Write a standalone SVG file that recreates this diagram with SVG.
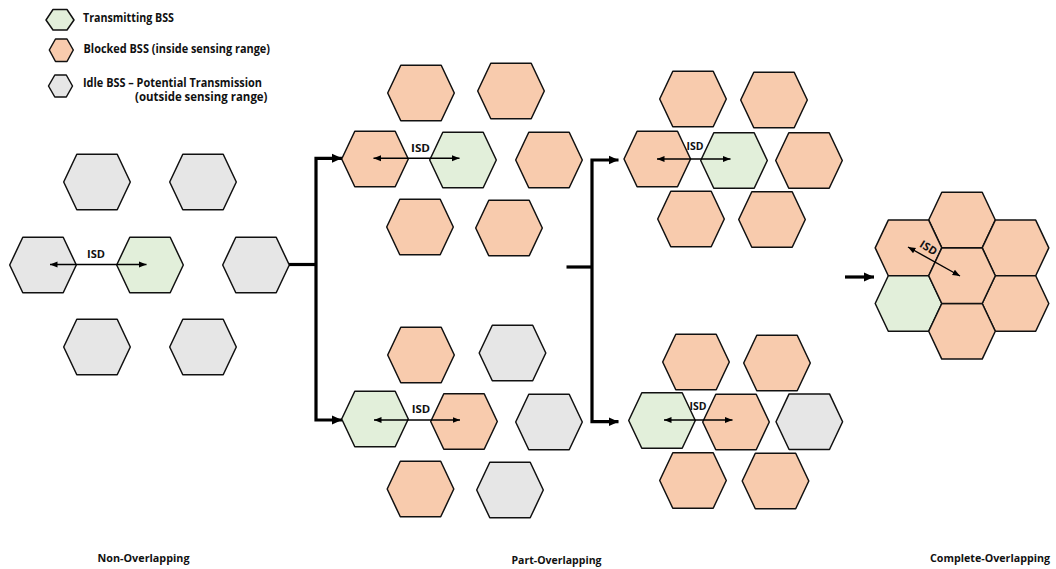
<svg xmlns="http://www.w3.org/2000/svg" xmlns:xlink="http://www.w3.org/1999/xlink" width="1056" height="569" viewBox="0 0 1056 569">
  <style>
    .hex { stroke: #111; stroke-width: 1.5; stroke-linejoin: round; }
    .tx { fill: #E2EFDA; }
    .bk { fill: #F8CBAD; }
    .id { fill: #E6E6E6; }
    text { font-family: "Open Sans", "Liberation Sans", "DejaVu Sans", sans-serif; font-weight: bold; fill: #111; }
    .leg { font-size: 11.5px; }
    .cap { font-size: 11px; }
    .isd { font-size: 11px; text-anchor: middle; }
    .flow { fill: none; stroke: #000; stroke-width: 3.2; stroke-linejoin: miter; }
    .dist { fill: none; stroke: #000; stroke-width: 1.4; }
  </style>
  <defs>
    <!-- cell shape: flat top/bottom, pointed left/right -->
    <path id="hex" d="M-33.3,0 L-20.2,-27.8 L20.2,-27.8 L33.3,0 L20.2,27.8 L-20.2,27.8 Z"/>
    <marker id="bigHead" markerUnits="userSpaceOnUse" markerWidth="11" markerHeight="10" refX="10" refY="5" orient="auto-start-reverse">
      <path d="M0,0.5 L10,5 L0,9.5 Z" fill="#000"/>
    </marker>
    <marker id="smallHead" markerUnits="userSpaceOnUse" markerWidth="8" markerHeight="7" refX="7.5" refY="3.5" orient="auto-start-reverse">
      <path d="M0,0.5 L7.5,3.5 L0,6.5 Z" fill="#000"/>
    </marker>
  </defs>

  <!-- legend -->
  <g id="legend">
    <path class="hex tx" d="M46,20 L53,9.5 L67,9.5 L74,20 L67,30 L53,30 Z"/>
    <path class="hex bk" d="M49.3,50 L55.5,39 L67,39 L73.3,50 L67,61.5 L55.5,61.5 Z"/>
    <path class="hex id" d="M48.5,86 L54.8,75 L66.3,75 L72.5,86 L66.3,97 L54.8,97 Z"/>
    <text class="leg" x="83" y="21.5" textLength="91" lengthAdjust="spacingAndGlyphs">Transmitting BSS</text>
    <text class="leg" x="83.5" y="53" textLength="186.5" lengthAdjust="spacingAndGlyphs">Blocked BSS (inside sensing range)</text>
    <text class="leg" x="83" y="87" textLength="179" lengthAdjust="spacingAndGlyphs">Idle BSS – Potential Transmission</text>
    <text class="leg" x="135" y="100.5" textLength="132.5" lengthAdjust="spacingAndGlyphs">(outside sensing range)</text>
  </g>

  <!-- non-overlapping layout -->
  <g id="non-overlapping">
    <use href="#hex" xlink:href="#hex" class="hex id" x="97" y="182"/>
    <use href="#hex" xlink:href="#hex" class="hex id" x="203" y="182"/>
    <use href="#hex" xlink:href="#hex" class="hex id" x="43" y="265"/>
    <use href="#hex" xlink:href="#hex" class="hex tx" x="150" y="265"/>
    <use href="#hex" xlink:href="#hex" class="hex id" x="256" y="265"/>
    <use href="#hex" xlink:href="#hex" class="hex id" x="97" y="347"/>
    <use href="#hex" xlink:href="#hex" class="hex id" x="203" y="347"/>
    <line class="dist" x1="50" y1="264.5" x2="146.5" y2="264.5" marker-start="url(#smallHead)" marker-end="url(#smallHead)"/>
    <text class="isd" x="96" y="257.5" textLength="18" lengthAdjust="spacingAndGlyphs">ISD</text>
  </g>

  <!-- part-overlapping, upper -->
  <g id="part-overlapping-a">
    <use href="#hex" xlink:href="#hex" class="hex bk" x="421" y="93"/>
    <use href="#hex" xlink:href="#hex" class="hex bk" x="511" y="91"/>
    <use href="#hex" xlink:href="#hex" class="hex bk" x="375" y="159"/>
    <use href="#hex" xlink:href="#hex" class="hex tx" x="463" y="160"/>
    <use href="#hex" xlink:href="#hex" class="hex bk" x="549" y="160"/>
    <use href="#hex" xlink:href="#hex" class="hex bk" x="420" y="227"/>
    <use href="#hex" xlink:href="#hex" class="hex bk" x="509" y="228"/>
    <line class="dist" x1="373.5" y1="158.3" x2="459.5" y2="158.3" marker-start="url(#smallHead)" marker-end="url(#smallHead)"/>
    <text class="isd" x="420.5" y="151.5" textLength="19" lengthAdjust="spacingAndGlyphs">ISD</text>
  </g>

  <!-- part-overlapping, lower -->
  <g id="part-overlapping-b">
    <use href="#hex" xlink:href="#hex" class="hex bk" x="421" y="355"/>
    <use href="#hex" xlink:href="#hex" class="hex id" x="512.5" y="353"/>
    <use href="#hex" xlink:href="#hex" class="hex tx" x="375" y="419"/>
    <use href="#hex" xlink:href="#hex" class="hex bk" x="464" y="421.5"/>
    <use href="#hex" xlink:href="#hex" class="hex id" x="549" y="422"/>
    <use href="#hex" xlink:href="#hex" class="hex bk" x="420.5" y="489"/>
    <use href="#hex" xlink:href="#hex" class="hex id" x="510" y="490"/>
    <line class="dist" x1="374" y1="420" x2="460" y2="420" marker-start="url(#smallHead)" marker-end="url(#smallHead)"/>
    <text class="isd" x="421" y="413" textLength="18.5" lengthAdjust="spacingAndGlyphs">ISD</text>
  </g>

  <!-- part-overlapping, tighter spacing, upper -->
  <g id="part-overlapping-c">
    <use href="#hex" xlink:href="#hex" class="hex bk" x="693" y="99"/>
    <use href="#hex" xlink:href="#hex" class="hex bk" x="774" y="100"/>
    <use href="#hex" xlink:href="#hex" class="hex bk" x="657.3" y="159"/>
    <use href="#hex" xlink:href="#hex" class="hex tx" x="734" y="160.5"/>
    <use href="#hex" xlink:href="#hex" class="hex bk" x="809" y="160.5"/>
    <use href="#hex" xlink:href="#hex" class="hex bk" x="691" y="219"/>
    <use href="#hex" xlink:href="#hex" class="hex bk" x="772" y="219.5"/>
    <line class="dist" x1="657" y1="159" x2="730.5" y2="159" marker-start="url(#smallHead)" marker-end="url(#smallHead)"/>
    <text class="isd" x="695" y="150" textLength="17" lengthAdjust="spacingAndGlyphs">ISD</text>
  </g>

  <!-- part-overlapping, tighter spacing, lower -->
  <g id="part-overlapping-d">
    <use href="#hex" xlink:href="#hex" class="hex bk" x="696" y="362"/>
    <use href="#hex" xlink:href="#hex" class="hex bk" x="777" y="363"/>
    <use href="#hex" xlink:href="#hex" class="hex tx" x="662" y="420.5"/>
    <use href="#hex" xlink:href="#hex" class="hex bk" x="736" y="422"/>
    <use href="#hex" xlink:href="#hex" class="hex id" x="809.3" y="421.7"/>
    <use href="#hex" xlink:href="#hex" class="hex bk" x="693" y="480.5"/>
    <use href="#hex" xlink:href="#hex" class="hex bk" x="775.5" y="481"/>
    <line class="dist" x1="664" y1="420" x2="732.5" y2="420" marker-start="url(#smallHead)" marker-end="url(#smallHead)"/>
    <text class="isd" x="698" y="410" textLength="17" lengthAdjust="spacingAndGlyphs">ISD</text>
  </g>

  <!-- complete-overlapping: tiled cells -->
  <g id="complete-overlapping">
    <use href="#hex" xlink:href="#hex" class="hex bk" x="962" y="220"/>
    <use href="#hex" xlink:href="#hex" class="hex bk" x="908.5" y="247.9"/>
    <use href="#hex" xlink:href="#hex" class="hex bk" x="1015.5" y="247.9"/>
    <use href="#hex" xlink:href="#hex" class="hex tx" x="908.5" y="303.5"/>
    <use href="#hex" xlink:href="#hex" class="hex bk" x="1015.5" y="303.5"/>
    <use href="#hex" xlink:href="#hex" class="hex bk" x="962" y="331.3"/>
    <use href="#hex" xlink:href="#hex" class="hex bk" x="962" y="275.7"/>
    <line class="dist" x1="908" y1="247" x2="960" y2="276" marker-start="url(#smallHead)" marker-end="url(#smallHead)"/>
    <text class="isd" transform="translate(926.5,251) rotate(32)" textLength="18" lengthAdjust="spacingAndGlyphs">ISD</text>
  </g>

  <!-- flow connectors between layouts -->
  <g id="connectors">
    <line class="flow" x1="289" y1="264.5" x2="316" y2="264.5"/>
    <polyline class="flow" points="342,158.3 316,158.3 316,420 342,420" marker-start="url(#bigHead)" marker-end="url(#bigHead)"/>
    <line class="flow" x1="566.5" y1="267" x2="592" y2="267"/>
    <polyline class="flow" points="618.5,160 592,160 592,421.7 618.5,421.7" marker-start="url(#bigHead)" marker-end="url(#bigHead)"/>
    <line class="flow" x1="845" y1="277" x2="874" y2="277" marker-end="url(#bigHead)"/>
  </g>

  <!-- captions -->
  <g id="captions">
    <text class="cap" x="97.5" y="562" textLength="92" lengthAdjust="spacingAndGlyphs">Non-Overlapping</text>
    <text class="cap" x="511.5" y="563.5" textLength="90" lengthAdjust="spacingAndGlyphs">Part-Overlapping</text>
    <text class="cap" x="930" y="562" textLength="120" lengthAdjust="spacingAndGlyphs">Complete-Overlapping</text>
  </g>
</svg>
